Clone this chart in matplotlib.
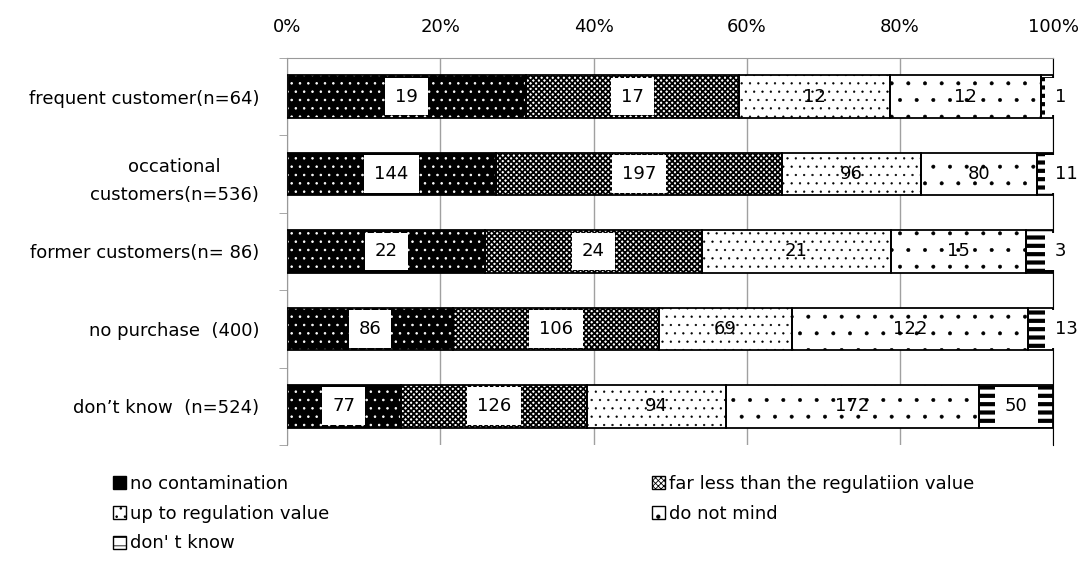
import matplotlib.pyplot as plt
from matplotlib.patches import Patch
from matplotlib.ticker import FuncFormatter

plt.rcParams['font.family'] = ['DejaVu Sans']
plt.rcParams['hatch.linewidth'] = 0.6

groups = ['frequent customer(n=64)', 'occational\ncustomers(n=536)',
          'former customers(n= 86)', 'no purchase  (400)', 'don\u2019t know  (n=524)']
series = ['no contamination', 'far less than the regulatiion value',
          'up to regulation value', 'do not mind', "don' t know"]
no_contamination = [19, 144, 22, 86, 77]
far_less = [17, 197, 24, 106, 126]
up_to_regulation = [12, 96, 21, 69, 94]
do_not_mind = [12, 80, 15, 122, 172]
dont_know = [1, 11, 3, 13, 50]
x_ticks = [0, 20, 40, 60, 80, 100]

values = [no_contamination, far_less, up_to_regulation, do_not_mind, dont_know]
# face colour, hatch colour, hatch pattern, hatch line width
styles = [('black', 'white', '..', 0.6),
          ('white', 'black', 'xxxxxx', 1.3),
          ('white', 'black', '..', 0.4),
          ('white', 'black', '.', 0.4),
          ('white', 'black', '--', 3.0)]
boxed = [True, True, False, False, True]
fs = 13

totals = [sum(v[i] for v in values) for i in range(len(groups))]
pos = list(range(len(groups)))

fig = plt.figure(figsize=(10.87, 5.67), dpi=100)
ax = fig.add_axes([0.264, 0.215, 0.705, 0.683])

left = [0.0] * len(groups)
box = dict(boxstyle='square,pad=0.55', facecolor='white', edgecolor='none')
for s, vals in enumerate(values):
    face, hcol, hatch, hlw = styles[s]
    pct = [v / t * 100 for v, t in zip(vals, totals)]
    with plt.rc_context({'hatch.linewidth': hlw}):
        bars = ax.barh(pos, pct, left=left, height=0.55, color=face, edgecolor=hcol,
                       hatch=hatch, linewidth=0, zorder=2)
    for b in bars:
        if hasattr(b, 'set_hatch_linewidth'):
            b.set_hatch_linewidth(hlw)
    ax.barh(pos, pct, left=left, height=0.55, fill=False, edgecolor='black',
            linewidth=1.3, zorder=3)
    for i in pos:
        if s == 4 and pct[i] < 5:
            ax.annotate(str(vals[i]), (100, i), xytext=(1, 0), textcoords='offset points',
                        ha='left', va='center', fontsize=fs, bbox=box, zorder=4)
        else:
            ax.text(left[i] + pct[i] / 2, i, str(vals[i]), ha='center', va='center',
                    fontsize=fs, bbox=box if boxed[s] else None, zorder=4)
    left = [l + p for l, p in zip(left, pct)]

ax.set_xlim(0, 100)
ax.set_ylim(len(groups) - 0.5, -0.5)
ax.xaxis.tick_top()
ax.set_xticks(x_ticks)
ax.xaxis.set_major_formatter(FuncFormatter(lambda v, p: '%d%%' % v))
ax.tick_params(axis='x', length=0, pad=16, labelsize=fs)
ax.set_yticks(pos)
ax.set_yticklabels(groups, multialignment='center', linespacing=1.7)
ax.set_yticks([p - 0.5 for p in pos] + [pos[-1] + 0.5], minor=True)
ax.tick_params(axis='y', which='major', length=0, pad=20, labelsize=fs)
ax.tick_params(axis='y', which='minor', length=6, color='#999999')
ax.grid(axis='x', color='#a0a0a0', linewidth=1)
ax.set_axisbelow(True)
for side in ['left', 'top']:
    ax.spines[side].set_color('#999999')
ax.spines['right'].set_color('black')
ax.spines['bottom'].set_visible(False)

handles = []
for s in range(5):
    face, hcol, hatch, hlw = styles[s]
    with plt.rc_context({'hatch.linewidth': hlw}):
        h = Patch(facecolor=face, edgecolor=hcol if face == 'white' else 'black',
                  hatch=hatch, label=series[s])
    handles.append(h)
order = [0, 2, 4, 1, 3]
fig.legend([handles[k] for k in order], [series[k] for k in order], ncol=2,
           loc='upper left', bbox_to_anchor=(0.097, 0.0, 0.806, 0.175), mode='expand',
           frameon=False, fontsize=fs, handlelength=0.75, handleheight=0.75,
           handletextpad=0.2, labelspacing=0.65, borderaxespad=0)

fig.savefig('out.png', dpi=100)
